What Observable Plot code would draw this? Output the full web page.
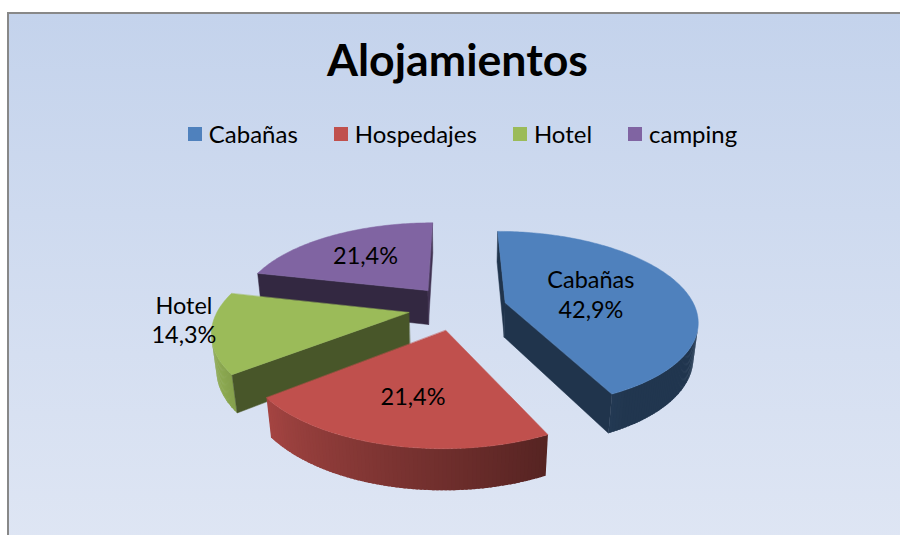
<!DOCTYPE html>
<html><head><meta charset="utf-8">
<script src="https://cdn.jsdelivr.net/npm/d3@7"></script>
<script src="https://cdn.jsdelivr.net/npm/@observablehq/plot@0.6"></script>
<style>
html,body{margin:0;padding:0;background:#fff;}
#wrap{position:relative;width:900px;height:535px;overflow:hidden;font-family:Lato,"Open Sans",sans-serif;color:#000;}
#box{position:absolute;left:7px;top:12px;width:910px;height:540px;border-left:2px solid #888;border-top:2px solid #888;background:linear-gradient(to bottom,#C4D3EC,#DFE6F4);}
#title{position:absolute;left:0;width:915px;text-align:center;font-weight:bold;line-height:1;white-space:nowrap;}
#legend{position:absolute;left:0;width:925px;display:flex;justify-content:center;align-items:center;line-height:1;white-space:nowrap;}
.item{display:flex;align-items:center;margin:0 18px;}
.sw{width:14px;height:14px;margin-right:7px;}
#chart{position:absolute;left:0;top:160px;}
</style></head><body>
<div id="wrap"><div id="box"></div><div id="title">Alojamientos</div><div id="legend"></div><div id="chart"></div></div>
<script>
// ---- data ----
const categories = ["Cabañas", "Hospedajes", "Hotel", "camping"];
const percents = [42.9, 21.4, 14.3, 21.4];
const colors = ["#4F81BD", "#C0504D", "#9BBB59", "#8064A2"];
const showName = [true, false, true, false];
const labelOutside = [false, false, true, false];
const titleText = "Alojamientos";

// ---- font fitting ----
const ctx = document.createElement("canvas").getContext("2d");
function fit(text, target, weight) { ctx.font = `${weight} 100px Lato`; return 100 * target / ctx.measureText(text).width; }
const titleSize = fit(titleText, 261, "bold");
const legendSize = fit("Cabañas", 89, "normal");
const labelSize = fit("42,9%", 65, "normal");

const title = document.getElementById("title");
title.textContent = titleText;
title.style.fontSize = titleSize + "px";
title.style.top = (77 - 0.887 * titleSize) + "px";

const legend = document.getElementById("legend");
legend.style.fontSize = legendSize + "px";
legend.style.top = (134 - legendSize / 2) + "px";
legend.style.height = legendSize + "px";
categories.forEach((c, i) => {
  const it = document.createElement("div"); it.className = "item";
  const sw = document.createElement("span"); sw.className = "sw"; sw.style.background = colors[i];
  const tx = document.createElement("span"); tx.textContent = c;
  it.append(sw, tx); legend.append(it);
});

// ---- 3D pie geometry (perspective projection) ----
const total = d3.sum(percents);
let acc = 0;
const slices = percents.map((v, i) => {
  const a = acc / total * 2 * Math.PI; acc += v;
  const b = acc / total * 2 * Math.PI;
  return {i, a, b, m: (a + b) / 2};
});
const alpha = 27 * Math.PI / 180, D = 4.76, F = 904, CX = 457, CY = 307, E = 0.26, H = 0.21;
const camY = D * Math.sin(alpha), camZ = D * Math.cos(alpha);
function proj([X, Y, Z]) {
  const d = D - (Y * Math.sin(alpha) + Z * Math.cos(alpha));
  const v = Y * Math.cos(alpha) - Z * Math.sin(alpha);
  return [CX + F * X / d, CY - F * v / d];
}
function pt(s, th, r, Y) { return [r * Math.sin(th) + E * Math.sin(s.m), Y, -r * Math.cos(th) - E * Math.cos(s.m)]; }
function visible(n, P) { return n[0] * (0 - P[0]) + n[1] * (camY - P[1]) + n[2] * (camZ - P[2]) > 0; }
function shade(col, f) { const c = d3.rgb(col); return d3.rgb(c.r * f, c.g * f, c.b * f).formatHex(); }
function wallFactor(th) { const deg = th * 180 / Math.PI; const t = Math.max(0, Math.min(1, (deg - 150) / 90)); return 0.42 + 0.48 * t; }
function radialFactor(na) { return 0.40 + 0.10 * Math.max(0, Math.sin(na)); }

const walls = [], faces = [];
let pid = 0;
function addPoly(arr, layer, pts3, color) { const id = pid++; for (const p of pts3) { const [x, y] = proj(p); arr.push({id, layer, x, y, color}); } }

const order = slices.slice().sort((s1, s2) => {
  const d = s => D - pt(s, s.m, 0.5, 0)[2] * Math.cos(alpha);
  return d(s2) - d(s1);
});
const topFaces = {};
order.forEach((s, li) => {
  const base = colors[s.i];
  // outer wall (overlapping strips, no stroke)
  const N = Math.ceil((s.b - s.a) / (Math.PI / 180));
  const step = (s.b - s.a) / N;
  for (let k = 0; k < N; k++) {
    const t0 = s.a + step * k, t1 = Math.min(s.b, t0 + step * 1.6), tm = t0 + step / 2;
    const n = [Math.sin(tm), 0, -Math.cos(tm)];
    if (visible(n, pt(s, tm, 1, -H / 2))) {
      addPoly(walls, li, [pt(s, t0, 1, 0), pt(s, t1, 1, 0), pt(s, t1, 1, -H), pt(s, t0, 1, -H)], shade(base, wallFactor(tm)));
    }
  }
  // radial faces
  for (const [ang, na] of [[s.a, s.a - Math.PI / 2], [s.b, s.b + Math.PI / 2]]) {
    const n = [Math.sin(na), 0, -Math.cos(na)];
    if (visible(n, pt(s, ang, 0.5, -H / 2))) {
      addPoly(faces, li, [pt(s, ang, 0, 0), pt(s, ang, 1, 0), pt(s, ang, 1, -H), pt(s, ang, 0, -H)], shade(base, radialFactor(na)));
    }
  }
  // top face
  const top = [pt(s, s.a, 0, 0)];
  for (let k = 0; k <= N; k++) top.push(pt(s, s.a + step * k, 1, 0));
  topFaces[s.i] = top.map(proj);
  addPoly(faces, li, top, base);
});

// ---- labels ----
const fmt = v => v.toFixed(1).replace(".", ",") + "%";
const labelData = slices.map(s => {
  const text = (showName[s.i] ? categories[s.i] + "\n" : "") + fmt(percents[s.i]);
  let p;
  if (labelOutside[s.i]) p = proj(pt(s, s.m, 1.12, 0.09));
  else {
    const phi = s.b - s.a;
    const rc = 4 * Math.sin(phi / 2) / (3 * phi);   // sector centroid
    p = proj(pt(s, s.m, rc, 0));
  }
  return {x: p[0], y: p[1], text};
});

const pieMarks = [];
order.forEach((s, li) => {
  pieMarks.push(Plot.line(walls.filter(d => d.layer === li), {x: "x", y: "y", z: "id", fill: "color", stroke: null, curve: "linear-closed"}));
  pieMarks.push(Plot.line(faces.filter(d => d.layer === li), {x: "x", y: "y", z: "id", fill: "color", stroke: "color", strokeWidth: 0.5, curve: "linear-closed"}));
});

const chart = Plot.plot({
  width: 900, height: 375, margin: 0,
  style: {background: "transparent", fontFamily: "Lato, 'Open Sans', sans-serif", overflow: "visible"},
  x: {domain: [0, 900], range: [0, 900], axis: null},
  y: {domain: [160, 535], range: [0, 375], axis: null},
  color: {type: "identity"},
  marks: [
    ...pieMarks,
    Plot.text(labelData, {x: "x", y: "y", text: "text", fontSize: labelSize, lineHeight: 1.25, fill: "#000", textAnchor: "middle"})
  ]
});
document.getElementById("chart").append(chart);
</script>
</body></html>
